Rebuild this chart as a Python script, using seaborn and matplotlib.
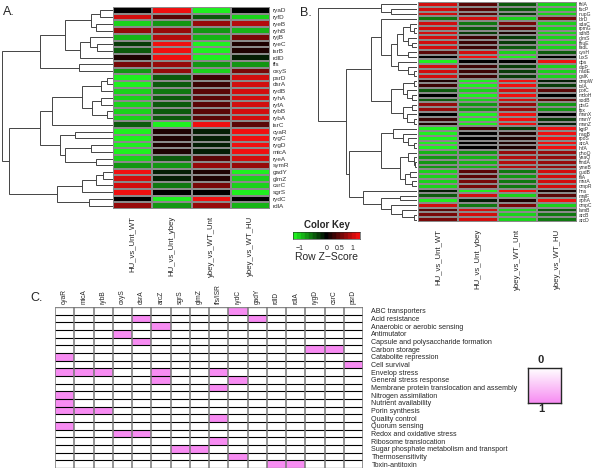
import numpy as np
import pandas as pd
import matplotlib
matplotlib.use("Agg")
import matplotlib.pyplot as plt
import seaborn as sns
from matplotlib.colors import LinearSegmentedColormap, ListedColormap

sns.set_style("white")
plt.rcParams['font.family'] = ['Liberation Sans', 'DejaVu Sans']

# ---- panel A : sRNA z-scores ----
a_cols = ["HU_vs_Unt_WT", "HU_vs_Unt_ybey", "ybey_vs_WT_Unt", "ybey_vs_WT_HU"]
a_rows = ["ryaD", "ryfD", "ryeB", "ryhB", "ryjB", "ryeC", "isrB", "rdlD", "ffs", "oxyS",
          "psrD", "dsrA", "rydB", "ryhA", "ryfA", "rybB", "rybA", "isrC", "cyaR", "rygC",
          "rygD", "micA", "ryeA", "symR", "gadY", "glmZ", "csrC", "sgrS", "rydC", "rdlA"]
a_vals = [
    [0.0, 1.2, -1.2, 0.05],
    [1.0, 0.4, -0.5, -1.1],
    [-1.0, -0.7, 0.7, 0.9],
    [0.8, 0.7, -0.8, -0.9],
    [-0.9, 0.9, -0.9, 0.6],
    [-0.3, 1.2, -1.2, 0.2],
    [-0.4, 1.2, -1.2, 0.2],
    [0.15, 1.2, -1.2, -0.2],
    [0.6, 0.8, -0.8, -0.7],
    [-0.7, 0.8, -1.0, 0.6],
    [-1.2, -0.4, 0.3, 1.1],
    [-1.2, -0.4, 0.3, 1.1],
    [-1.0, -0.6, 0.4, 1.0],
    [-1.1, -0.5, 0.4, 1.1],
    [-1.1, -0.5, 0.4, 1.1],
    [-1.1, -0.5, 0.4, 1.1],
    [-1.1, -0.5, 0.4, 1.1],
    [-0.5, -1.2, 1.2, 0.5],
    [-1.25, 0.1, -0.1, 1.2],
    [-1.25, 0.1, -0.1, 1.2],
    [-1.25, 0.1, -0.1, 1.2],
    [-1.25, 0.1, -0.1, 1.2],
    [-1.1, -0.5, 0.5, 1.1],
    [-0.8, -0.8, 0.7, 0.8],
    [1.2, -0.1, 0.1, -1.2],
    [1.1, -0.1, 0.15, -1.1],
    [1.0, -0.6, 0.6, -1.0],
    [1.2, -0.05, 0.0, -1.2],
    [0.0, -1.2, 1.2, 0.0],
    [0.8, -0.7, 0.7, -0.9],
]
# tree: (merge height, left, right), heights
a_tree = (328,
          (216,
           (141,
            (66, (38, "ryaD", "ryfD"), (51, "ryeB", "ryhB")),
            (98, (68, "ryjB", (46, "ryeC", "isrB")), "rdlD")),
           (101, "ffs", "oxyS")),
          (308,
           (216,
            (181,
             (91,
              (36, (18, "psrD", "dsrA"), "rydB"),
              (61, (36, "ryhA", "ryfA"), (18, "rybB", "rybA"))),
             "isrC"),
            (156,
             (111, "cyaR", "rygC"),
             (141, (66, "rygD", "micA"), (51, "ryeA", "symR")))),
           (166,
            (91, (51, (31, "gadY", "glmZ"), "csrC"), "sgrS"),
            (71, "rydC", "rdlA"))))

# ---- panel B : target genes z-scores ----
b_rows = ["fhlA", "fucP", "nupG", "ldrD", "sdaC", "rpmG", "sdhB", "glmS", "fhuE", "fadL",
          "cysH", "luxS", "dps", "clpP", "nadE", "galK", "ompW", "tolA", "potC", "mdoH",
          "sodB", "ptsG", "fpx", "manX", "manY", "manZ", "kgtP", "nagB", "rpoS", "arcA",
          "ihfA", "phoQ", "yeaQ", "fmdA", "ymeB", "gudB", "fliA", "msrA", "ompR", "hns",
          "malF", "aphA", "ompC", "lamB", "arcB", "arcD"]
b_vals = [
    [1.0, 0.5, -0.5, -1.0],
    [1.0, 0.5, -0.4, -1.1],
    [1.0, 0.4, -0.3, -1.1],
    [-0.6, 1.0, -1.0, 0.6],
    [1.1, -0.6, 0.6, -1.1],
    [1.1, -0.5, 0.4, -1.1],
    [1.1, -0.3, 0.2, -1.1],
    [1.1, 0.3, -0.3, -1.1],
    [1.1, 0.3, -0.3, -1.1],
    [1.1, 0.3, -0.4, -1.1],
    [0.5, 1.1, -1.1, -0.5],
    [0.0, 1.2, -1.2, 0.0],
    [-1.2, 0.0, -0.05, 1.2],
    [1.1, 0.3, -0.3, -1.1],
    [1.1, 0.25, -0.25, -1.1],
    [1.1, 0.25, -0.25, -1.1],
    [0.2, -1.2, 1.2, -0.2],
    [0.3, -1.2, 1.2, -0.3],
    [-0.5, -1.1, 1.1, 0.5],
    [0.0, -1.2, 1.2, 0.0],
    [-0.4, -1.1, 1.1, 0.4],
    [0.7, -0.8, 0.7, -0.7],
    [0.7, -0.8, 0.8, -0.7],
    [0.05, -1.2, 1.2, -0.05],
    [0.3, -1.2, 1.2, -0.3],
    [0.2, -1.2, 1.2, -0.2],
    [-1.2, 0.3, -0.3, 1.2],
    [-1.2, 0.05, 0.1, 1.2],
    [-1.2, -0.05, 0.1, 1.2],
    [-1.2, -0.05, 0.15, 1.2],
    [-1.2, -0.05, 0.15, 1.2],
    [-0.9, -0.8, 0.7, 0.8],
    [-0.8, -0.9, 0.9, 0.7],
    [-0.8, -0.9, 0.9, 0.7],
    [-0.8, -0.9, 0.9, 0.7],
    [-1.0, 0.5, -0.6, 1.0],
    [-1.0, 0.5, -0.7, 1.0],
    [-1.0, 0.6, -0.6, 1.0],
    [-1.0, 0.6, -0.6, 1.0],
    [-0.2, -1.2, 1.2, 0.2],
    [-0.4, 1.1, -1.1, 0.4],
    [-1.2, -0.1, 0.2, 1.2],
    [1.0, -0.6, 0.6, -1.0],
    [0.5, 1.1, -1.1, -0.5],
    [0.6, 1.0, -1.0, -0.6],
    [0.6, 1.0, -1.0, -0.6],
]
b_tree = (291,
          (105, "fhlA", (75, "fucP", "nupG")),
          (210,
           (135,
            (107, "ldrD",
             (75,
              (60,
               (40, (20, "sdaC", (10, "rpmG", "sdhB")), (25, "glmS", (15, "fhuE", "fadL"))),
               (27, "cysH", "luxS")),
              (55, "dps", (25, "clpP", (10, "nadE", "galK"))))),
            (75,
             (40, (10, "ompW", "tolA"), (30, "potC", (15, "mdoH", "sodB"))),
             (40, (15, "ptsG", "fpx"), (30, "manX", (10, "manY", "manZ"))))),
           (200,
            (105,
             (70, "kgtP", (40, "nagB", (25, "rpoS", (10, "arcA", "ihfA")))),
             (50,
              (25, "phoQ", (10, "yeaQ", (7, "fmdA", "ymeB"))),
              (35, (20, "gudB", "fliA"), (15, "msrA", "ompR")))),
            (160, "hns",
             (105, (50, "malF", "aphA"),
              (75, "ompC", (45, "lamB", (10, "arcB", "arcD"))))))))

# ---- panel C : functions of sRNAs ----
c_cols = ["cyaR", "micA", "rybB", "oxyS", "dsrA", "arcZ", "sgrS", "glmZ", "ffs/ISR",
          "rydC", "gadY", "rdlD", "rdlA", "rygD", "csrC", "psrD"]
c_rows = ["ABC transporters", "Acid resistance", "Anaerobic or aerobic sensing", "Antimutator",
          "Capsule and polysaccharide formation", "Carbon storage", "Catabolite repression",
          "Cell survival", "Envelop stress", "General stress response",
          "Membrane protein translocation and assembly", "Nitrogen assimilation",
          "Nutrient availability", "Porin synthesis", "Quality control", "Quorum sensing",
          "Redox and oxidative stress", "Ribosome translocation",
          "Sugar phosphate metabolism and transport", "Thermosensitivity", "Toxin-antitoxin"]
c_hits = [["rydC"], ["dsrA", "gadY"], ["arcZ"], ["oxyS"], ["dsrA"], ["rygD", "csrC"],
          ["cyaR"], ["psrD"], ["cyaR", "micA", "rybB", "arcZ", "ffs/ISR"], ["arcZ", "rydC"],
          ["ffs/ISR"], ["cyaR"], ["cyaR"], ["cyaR", "micA", "rybB"], ["ffs/ISR"], ["cyaR"],
          ["oxyS", "dsrA"], ["ffs/ISR"], ["sgrS", "glmZ"], ["rydC"], ["rdlD", "rdlA"]]

W, H = 600, 471
fig = plt.figure(figsize=(W / 100, H / 100), dpi=100)


def box(x0, y0, x1, y1):
    return fig.add_axes([x0 / W, 1 - y1 / H, (x1 - x0) / W, (y1 - y0) / H])


def draw_tree(ax, node, pos):
    if isinstance(node, str):
        return pos[node], 0
    h, l, r = node
    yl, hl = draw_tree(ax, l, pos)
    yr, hr = draw_tree(ax, r, pos)
    ax.plot([hl, h, h, hr], [yl, yl, yr, yr], color="#444444", lw=0.7, solid_joinstyle="miter")
    return (yl + yr) / 2, h


zcmap = LinearSegmentedColormap.from_list("gbr", ["#1ff01f", "#000000", "#f01010"], N=17)
zlim = 1.27

# A
dfA = pd.DataFrame(a_vals, index=a_rows, columns=a_cols)
axA = box(113, 7, 270, 209)
sns.heatmap(dfA, ax=axA, cmap=zcmap, vmin=-zlim, vmax=zlim, cbar=False,
            linewidths=0.12, linecolor="#8a8a8a", xticklabels=True, yticklabels=True)
axA.yaxis.tick_right()
axA.tick_params(axis="y", length=0, pad=2, labelsize=4.6, labelcolor="#333333", labelrotation=0)
axA.tick_params(axis="x", length=0, pad=5, labelsize=5.6, labelrotation=90)
axA.set_xlabel("")
axA.set_ylabel("")

axAd = box(2, 7, 113, 209)
draw_tree(axAd, a_tree, {n: i + 0.5 for i, n in enumerate(a_rows)})
axAd.set_xlim(a_tree[0], 0)
axAd.set_ylim(len(a_rows), 0)
axAd.axis("off")
fig.text(3 / W, 1 - 12 / H, "A.", fontsize=9, va="center")

# B
dfB = pd.DataFrame(b_vals, index=b_rows, columns=a_cols)
axB = box(418, 2, 577, 222)
sns.heatmap(dfB, ax=axB, cmap=zcmap, vmin=-zlim, vmax=zlim, cbar=False,
            linewidths=0.12, linecolor="#8a8a8a", xticklabels=True, yticklabels=True)
axB.yaxis.tick_right()
axB.tick_params(axis="y", length=0, pad=1.5, labelsize=3.6, labelcolor="#333333", labelrotation=0)
axB.tick_params(axis="x", length=0, pad=5, labelsize=5.6, labelrotation=90)
axB.set_xlabel("")
axB.set_ylabel("")

axBd = box(318, 2, 417, 222)
draw_tree(axBd, b_tree, {n: i + 0.5 for i, n in enumerate(b_rows)})
axBd.set_xlim(b_tree[0], 0)
axBd.set_ylim(len(b_rows), 0)
axBd.axis("off")
fig.text(300 / W, 1 - 13 / H, "B.", fontsize=9, va="center")

# colour key
axK = box(293, 232, 360, 239)
axK.imshow(np.linspace(-zlim, zlim, 256)[None, :], aspect="auto", cmap=zcmap,
           vmin=-zlim, vmax=zlim, extent=[-zlim, zlim, 0, 1])
axK.set_yticks([])
axK.set_xticks([-1, 0, 0.5, 1])
axK.set_xticklabels(["\u22121", "0", "0.5", "1"])
axK.tick_params(axis="x", length=2.5, width=0.5, pad=1.5, labelsize=5)
axK.set_xlabel("Row Z\u2212Score", fontsize=7.5, labelpad=0.5)
axK.set_title("Color Key", fontsize=7, fontweight="bold", pad=3)
for s in axK.spines.values():
    s.set_linewidth(0.4)

# C
c_mat = [[1 if c in hits else 0 for c in c_cols] for hits in c_hits]
dfC = pd.DataFrame(c_mat, index=c_rows, columns=c_cols)
pink = "#f78cf2"
axC = box(55, 307, 363, 468)
sns.heatmap(dfC, ax=axC, cmap=ListedColormap(["white", pink]), vmin=0, vmax=1, cbar=False,
            xticklabels=True, yticklabels=True)
axC.hlines(range(1, len(c_rows)), 0, len(c_cols), color="black", lw=0.8)
axC.hlines([0, len(c_rows)], 0, len(c_cols), color="#888888", lw=1.0)
axC.vlines(range(len(c_cols) + 1), 0, len(c_rows), color="#777777", lw=1.1)
axC.xaxis.tick_top()
axC.yaxis.tick_right()
axC.tick_params(axis="x", length=0, pad=2, labelsize=4.8, labelrotation=90)
axC.tick_params(axis="y", length=0, pad=6, labelsize=5.1, labelrotation=0)
axC.set_xlabel("")
axC.set_ylabel("")
fig.text(30 / W, 1 - 298 / H, "C.", fontsize=9, va="center")

# legend for C
axL = box(528, 368, 561, 403)
axL.imshow(np.linspace(0, 1, 100)[:, None], aspect="auto",
           cmap=LinearSegmentedColormap.from_list("wp", ["white", pink]), extent=[0, 1, 1, 0])
axL.set_xticks([])
axL.set_yticks([])
for s in axL.spines.values():
    s.set_linewidth(1.0)
fig.text(541 / W, 1 - 360 / H, "0", fontsize=8, fontweight="bold", ha="center", va="center")
fig.text(541 / W, 1 - 409 / H, "1", fontsize=8, fontweight="bold", ha="center", va="center")

fig.savefig("out.png", dpi=100)
